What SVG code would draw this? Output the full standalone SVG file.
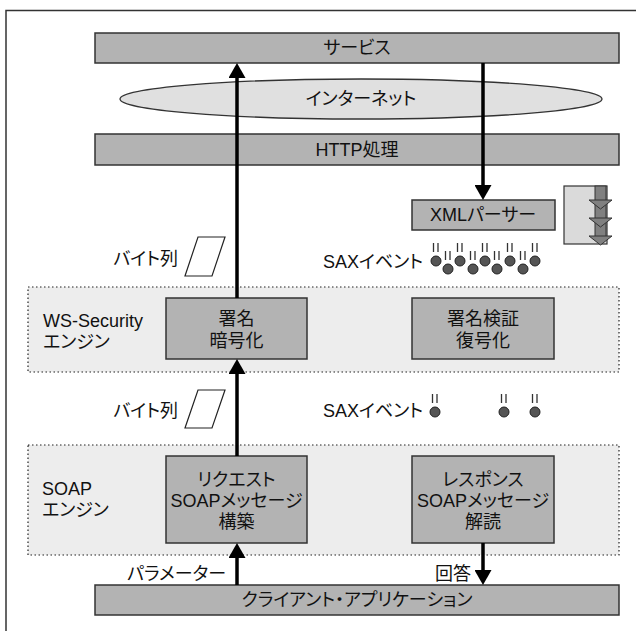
<svg xmlns="http://www.w3.org/2000/svg" width="636" height="631" viewBox="0 0 636 631">
<defs>
<style>
text{font-family:"Liberation Sans","Noto Sans CJK JP",sans-serif;font-size:18px;fill:#111;font-feature-settings:"palt";}
.c{text-anchor:middle;}
.e{text-anchor:end;}
.box{fill:#b3b3b3;stroke:#333;stroke-width:1.5;}
.zone{fill:#ededed;stroke:#222;stroke-width:1.2;stroke-dasharray:1.5 2.5;}
.flow{stroke:#000;stroke-width:3.5;fill:none;}
.para{fill:#fff;stroke:#222;stroke-width:1.2;}
.tick{stroke:#333;stroke-width:1.3;}
.ball{fill:#555;stroke:#222;stroke-width:1;}
</style>
<marker id="ah" viewBox="0 0 15 17" refX="3" refY="8.5" markerWidth="15" markerHeight="17" markerUnits="userSpaceOnUse" orient="auto">
<path d="M0,0 L15,8.5 L0,17 z" fill="#000"/>
</marker>
<g id="sax">
<line class="tick" x1="-2.5" y1="-18" x2="-2.5" y2="-9"/>
<line class="tick" x1="2" y1="-18" x2="2" y2="-9"/>
<circle class="ball" cx="0" cy="0" r="5"/>
</g>
</defs>
<rect x="6" y="10.5" width="640" height="640" fill="#fff" stroke="#333" stroke-width="1.5"/>

<g id="zone-ws">
<rect class="zone" x="28" y="287" width="591" height="85"/>
<text x="43" y="327">WS-Security</text>
<text x="43" y="348">エンジン</text>
</g>
<g id="zone-soap">
<rect class="zone" x="28" y="445" width="591" height="110"/>
<text x="42" y="495">SOAP</text>
<text x="42" y="516">エンジン</text>
</g>

<g id="service">
<rect class="box" x="95" y="33" width="524" height="30"/>
<text class="c" x="357" y="54">サービス</text>
</g>
<g id="internet">
<ellipse cx="361" cy="99" rx="241" ry="20" fill="#e0e0e0" stroke="#333" stroke-width="1.3"/>
<text class="c" x="361" y="105">インターネット</text>
</g>
<g id="http">
<rect class="box" x="95" y="134" width="524" height="31"/>
<text class="c" x="357" y="156">HTTP処理</text>
</g>
<g id="xmlparser">
<rect class="box" x="412" y="200" width="143" height="30"/>
<text class="c" x="483" y="221">XMLパーサー</text>
</g>
<g id="stack">
<rect x="564" y="186" width="43" height="58" fill="#dadada" stroke="#333" stroke-width="1.2"/>
<rect x="595" y="186" width="11" height="52" fill="#808080" stroke="#333" stroke-width="1"/>
<path d="M589,200 L612,200 L600.5,209 z M589,218 L612,218 L600.5,227 z M589,236 L612,236 L600.5,245 z" fill="#808080" stroke="#333" stroke-width="1"/>
</g>
<g id="sign">
<rect class="box" x="166" y="298" width="141" height="61"/>
<text class="c" x="236.5" y="325">署名</text>
<text class="c" x="236.5" y="347">暗号化</text>
</g>
<g id="verify">
<rect class="box" x="412" y="298" width="142" height="61"/>
<text class="c" x="483" y="325">署名検証</text>
<text class="c" x="483" y="347">復号化</text>
</g>
<g id="request">
<rect class="box" x="166" y="456" width="141" height="87"/>
<text class="c" x="236.5" y="486">リクエスト</text>
<text class="c" x="236.5" y="507">SOAPメッセージ</text>
<text class="c" x="236.5" y="528">構築</text>
</g>
<g id="response">
<rect class="box" x="412" y="456" width="142" height="87"/>
<text class="c" x="483" y="486">レスポンス</text>
<text class="c" x="483" y="507">SOAPメッセージ</text>
<text class="c" x="483" y="528">解読</text>
</g>
<g id="client">
<rect class="box" x="95" y="585" width="524" height="30"/>
<text class="c" x="357" y="606">クライアント・アプリケーション</text>
</g>

<g id="bytes1">
<polygon class="para" points="198,237 225,237 212,276 185,276"/>
<text class="e" x="178" y="265">バイト列</text>
</g>
<g id="bytes2">
<polygon class="para" points="198,390 225,390 212,428 185,428"/>
<text class="e" x="178" y="417">バイト列</text>
</g>
<g id="saxevents1">
<text x="323" y="268">SAXイベント</text>
<use href="#sax" x="436" y="261"/>
<use href="#sax" x="448" y="269"/>
<use href="#sax" x="460" y="261"/>
<use href="#sax" x="473" y="269"/>
<use href="#sax" x="485" y="261"/>
<use href="#sax" x="497" y="269"/>
<use href="#sax" x="510" y="261"/>
<use href="#sax" x="523" y="269"/>
<use href="#sax" x="535" y="261"/>
</g>
<g id="saxevents2">
<text x="323" y="417">SAXイベント</text>
<use href="#sax" x="435" y="412"/>
<use href="#sax" x="504" y="412"/>
<use href="#sax" x="535" y="412"/>
</g>
<g id="labels">
<text class="e" x="226" y="580">パラメーター</text>
<text x="435" y="580">回答</text>
</g>

<g id="connectors">
<line class="flow" x1="237" y1="585" x2="237" y2="555" marker-end="url(#ah)"/>
<line class="flow" x1="237" y1="456" x2="237" y2="371" marker-end="url(#ah)"/>
<line class="flow" x1="237" y1="298" x2="237" y2="75" marker-end="url(#ah)"/>
<line class="flow" x1="483" y1="63" x2="483" y2="188" marker-end="url(#ah)"/>
<line class="flow" x1="483" y1="543" x2="483" y2="573" marker-end="url(#ah)"/>
</g>
</svg>
